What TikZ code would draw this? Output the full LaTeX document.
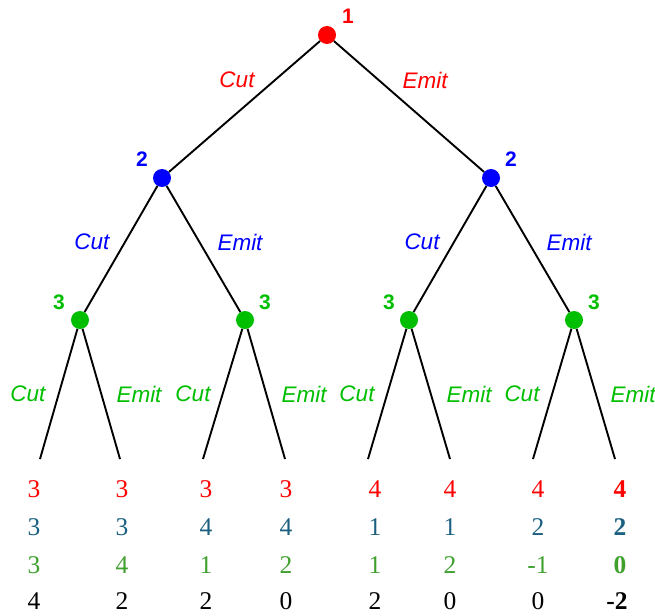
\documentclass[tikz,border=0pt]{standalone}
\usepackage{fontspec}
\setmainfont{Liberation Serif}
\setsansfont{Liberation Sans}
\definecolor{cred}{RGB}{255,0,0}
\definecolor{cblue}{RGB}{0,0,255}
\definecolor{cgreen}{RGB}{0,190,0}
\definecolor{nred}{RGB}{255,0,0}
\definecolor{nteal}{RGB}{27,96,128}
\definecolor{ngreen}{RGB}{63,160,45}
\begin{document}
\begin{tikzpicture}[x=1pt,y=-1pt,
  dot/.style={circle, inner sep=0pt, minimum size=18pt},
  edge/.style={line width=1.9pt, black},
  elab/.style={font=\fontsize{22.5}{26}\selectfont\sffamily\itshape},
  nlab/.style={font=\fontsize{21}{24}\selectfont\sffamily\bfseries},
  num/.style={inner sep=1pt, font=\fontsize{25.5}{28}\selectfont},
  bnum/.style={inner sep=1pt, font=\fontsize{25.5}{28}\selectfont\bfseries}]
\useasboundingbox (0,0) rectangle (655,615);
% tree nodes
\node[dot, fill=cred] (r) at (327,35) {};
\node[dot, fill=cblue] (a) at (162,178) {};
\node[dot, fill=cblue] (b) at (491,178) {};
\node[dot, fill=cgreen] (a1) at (80,320) {};
\node[dot, fill=cgreen] (a2) at (245,320) {};
\node[dot, fill=cgreen] (b1) at (409,320) {};
\node[dot, fill=cgreen] (b2) at (574,320) {};
\coordinate (l1) at (40,459);
\coordinate (l2) at (120,459);
\coordinate (l3) at (203,459);
\coordinate (l4) at (285,459);
\coordinate (l5) at (368,459);
\coordinate (l6) at (450,459);
\coordinate (l7) at (533,459);
\coordinate (l8) at (615,459);
% edges
\draw[edge] (r) -- (a);
\draw[edge] (r) -- (b);
\draw[edge] (a) -- (a1);
\draw[edge] (a) -- (a2);
\draw[edge] (b) -- (b1);
\draw[edge] (b) -- (b2);
\draw[edge] (a1) -- (l1);
\draw[edge] (a1) -- (l2);
\draw[edge] (a2) -- (l3);
\draw[edge] (a2) -- (l4);
\draw[edge] (b1) -- (l5);
\draw[edge] (b1) -- (l6);
\draw[edge] (b2) -- (l7);
\draw[edge] (b2) -- (l8);
% node labels
\node[nlab, text=cred] (tr) at (348,16) {1};
\node[nlab, text=cblue] (ta) at (142,159) {2};
\node[nlab, text=cblue] (tb) at (511,159) {2};
\node[nlab, text=cgreen] (ta1) at (59,302) {3};
\node[nlab, text=cgreen] (ta2) at (265,302) {3};
\node[nlab, text=cgreen] (tb1) at (389,302) {3};
\node[nlab, text=cgreen] (tb2) at (594,302) {3};
% edge labels
\node[elab, text=cred] (e1) at (237,80) {Cut};
\node[elab, text=cred] (e2) at (425,80) {Emit};
\node[elab, text=cblue] (e3) at (92,242) {Cut};
\node[elab, text=cblue] (e4) at (240,242) {Emit};
\node[elab, text=cblue] (e5) at (422,242) {Cut};
\node[elab, text=cblue] (e6) at (569,242) {Emit};
\node[elab, text=cgreen] (g1) at (28,394) {Cut};
\node[elab, text=cgreen] (g2) at (139,394) {Emit};
\node[elab, text=cgreen] (g3) at (193,394) {Cut};
\node[elab, text=cgreen] (g4) at (304,394) {Emit};
\node[elab, text=cgreen] (g5) at (357,394) {Cut};
\node[elab, text=cgreen] (g6) at (469,394) {Emit};
\node[elab, text=cgreen] (g7) at (522,394) {Cut};
\node[elab, text=cgreen] (g8) at (633,394) {Emit};
% numbers
\foreach \x/\v [count=\i] in {34/3,122/3,206/3,286/3,375/4,450/4,538/4}
  \node[num, text=nred] (n1\i) at (\x,489) {\v};
\node[bnum, text=nred] (n18) at (620,489) {4};
\foreach \x/\v [count=\i] in {34/3,122/3,206/4,286/4,375/1,450/1,538/2}
  \node[num, text=nteal] (n2\i) at (\x,527) {\v};
\node[bnum, text=nteal] (n28) at (620,527) {2};
\foreach \x/\v [count=\i] in {34/3,122/4,206/1,286/2,375/1,450/2,538/-1}
  \node[num, text=ngreen] (n3\i) at (\x,565) {\v};
\node[bnum, text=ngreen] (n38) at (620,565) {0};
\foreach \x/\v [count=\i] in {34/4,122/2,206/2,286/0,375/2,450/0,538/0}
  \node[num, text=black] (n4\i) at (\x,601) {\v};
\node[bnum, text=black] (n48) at (617,601) {-2};
\end{tikzpicture}
\end{document}
